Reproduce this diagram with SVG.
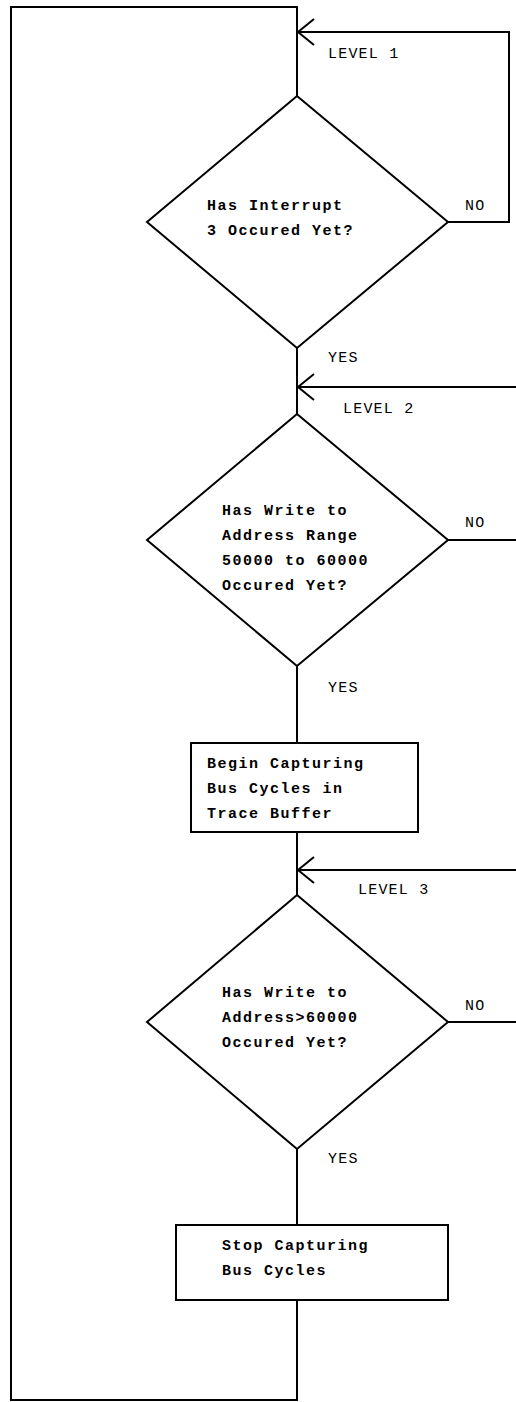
<svg xmlns="http://www.w3.org/2000/svg" width="516" height="1402" viewBox="0 0 516 1402">
<style>
.ln{fill:none;stroke:#000;stroke-width:2;stroke-linejoin:miter;stroke-linecap:square}
.sh{fill:#fff;stroke:#000;stroke-width:2}
.b{font-family:"Courier New","Liberation Mono",monospace;font-weight:bold;font-size:15px;letter-spacing:1.5px;fill:#000}
.r{font-family:"Courier New","Liberation Mono",monospace;font-size:15px;letter-spacing:1.2px;fill:#000}
</style>
<defs>
<marker id="ah" markerWidth="20" markerHeight="30" refX="1" refY="15" orient="auto-start-reverse" markerUnits="userSpaceOnUse">
<path d="M18,2 L1,15 L18,28" fill="none" stroke="#000" stroke-width="2"/>
</marker>
</defs>
<rect width="516" height="1402" fill="#fff"/>
<g id="connectors">
<polyline class="ln" points="297,96 297,7 11,7 11,1400 297,1400 297,1300"/>
<polyline class="ln" points="448,222 509,222 509,32 298,32"/>
<path d="M314,19 L298,32 L314,45" fill="none" stroke="#000" stroke-width="2"/>
<line class="ln" x1="297" y1="348" x2="297" y2="414"/>
<line class="ln" x1="516" y1="387" x2="298" y2="387"/>
<path d="M314,374 L298,387 L314,400" fill="none" stroke="#000" stroke-width="2"/>
<line class="ln" x1="448" y1="540" x2="516" y2="540"/>
<line class="ln" x1="297" y1="666" x2="297" y2="743"/>
<line class="ln" x1="297" y1="832" x2="297" y2="895"/>
<line class="ln" x1="516" y1="870" x2="298" y2="870"/>
<path d="M314,857 L298,870 L314,883" fill="none" stroke="#000" stroke-width="2"/>
<line class="ln" x1="448" y1="1022" x2="516" y2="1022"/>
<line class="ln" x1="297" y1="1149" x2="297" y2="1225"/>
</g>
<g id="labels">
<text class="r" x="328" y="58">LEVEL 1</text>
<text class="r" x="465" y="210">NO</text>
<text class="r" x="328" y="362">YES</text>
<text class="r" x="343" y="413">LEVEL 2</text>
<text class="r" x="465" y="527">NO</text>
<text class="r" x="328" y="692">YES</text>
<text class="r" x="358" y="894">LEVEL 3</text>
<text class="r" x="465" y="1010">NO</text>
<text class="r" x="328" y="1163">YES</text>
</g>
<g id="d1">
<polygon class="sh" points="297,96 448,222 297,348 147,222"/>
<text class="b" x="207" y="210">Has Interrupt</text>
<text class="b" x="207" y="235">3 Occured Yet?</text>
</g>
<g id="d2">
<polygon class="sh" points="297,414 448,540 297,666 147,540"/>
<text class="b" x="222" y="515">Has Write to</text>
<text class="b" x="222" y="540">Address Range</text>
<text class="b" x="222" y="565">50000 to 60000</text>
<text class="b" x="222" y="590">Occured Yet?</text>
</g>
<g id="box1">
<rect class="sh" x="191" y="743" width="227" height="89"/>
<text class="b" x="207" y="768">Begin Capturing</text>
<text class="b" x="207" y="793">Bus Cycles in</text>
<text class="b" x="207" y="818">Trace Buffer</text>
</g>
<g id="d3">
<polygon class="sh" points="297,895 448,1022 297,1149 147,1022"/>
<text class="b" x="222" y="997">Has Write to</text>
<text class="b" x="222" y="1022">Address&gt;60000</text>
<text class="b" x="222" y="1047">Occured Yet?</text>
</g>
<g id="box2">
<rect class="sh" x="176" y="1225" width="272" height="75"/>
<text class="b" x="222" y="1250">Stop Capturing</text>
<text class="b" x="222" y="1275">Bus Cycles</text>
</g>
</svg>
